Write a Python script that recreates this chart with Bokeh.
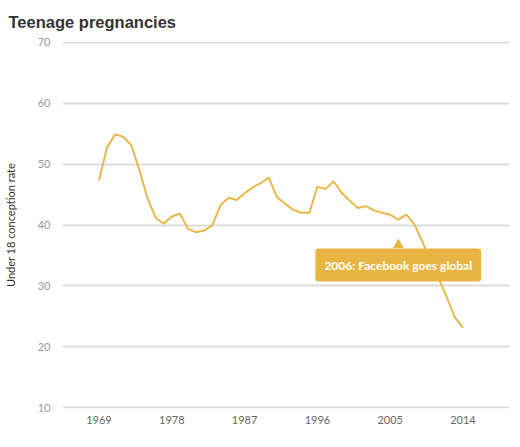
from bokeh.plotting import figure
from bokeh.models import Range1d, FixedTicker, Label, Title
from bokeh.embed import file_html
from bokeh.resources import INLINE

years = list(range(1969, 2015))
rate = [47.3, 52.8, 54.9, 54.5, 53.1, 49.0, 44.4, 41.2, 40.2, 41.4,
        41.9, 39.4, 38.8, 39.1, 39.9, 43.2, 44.5, 44.1, 45.2, 46.2,
        46.9, 47.8, 44.6, 43.5, 42.5, 42.0, 42.0, 46.3, 45.9, 47.2,
        45.3, 44.0, 42.8, 43.1, 42.4, 42.0, 41.7, 40.9, 41.7, 40.1,
        37.2, 34.2, 31.2, 28.1, 24.8, 23.1]
x_ticks = [1969, 1978, 1987, 1996, 2005, 2014]
y_ticks = [10, 20, 30, 40, 50, 60, 70]
note_year = 2006
note_text = "2006: Facebook goes global"
title_text = "Teenage pregnancies"
y_label = "Under 18 conception rate"

LINE = "#e9b84a"
BOX = "#e8b542"

p = figure(frame_width=447, frame_height=367, output_backend="svg", toolbar_location=None,
           x_range=Range1d(1964.49, 2019.75), y_range=Range1d(9.836, 70.164),
           min_border_left=54, min_border_right=3, min_border_top=33,
           min_border_bottom=24)
p.outline_line_color = None
p.background_fill_color = "white"
p.border_fill_color = "white"

t = Title(text=title_text, text_font="Liberation Sans", text_font_size="16.5px",
          text_font_style="bold", text_color="#333333", align="left", offset=-54,
          standoff=21)
p.add_layout(t, "above")

p.line(years, rate, line_color=LINE, line_width=2)

# annotation callout
p.scatter([note_year], [36.75], marker="triangle", size=11, fill_color=BOX,
          line_color=None)
lab = Label(x=note_year, y=33.42, text=note_text, text_align="center",
            text_baseline="middle", text_color="white", text_font="Lato",
            text_font_size="12px", text_font_style="bold",
            background_fill_color=BOX, padding=(9, 9), border_radius=3)
p.add_layout(lab)

p.xaxis.ticker = FixedTicker(ticks=x_ticks)
p.yaxis.ticker = FixedTicker(ticks=y_ticks)
for ax in (p.xaxis, p.yaxis):
    ax.axis_line_color = None
    ax.major_tick_line_color = None
    ax.minor_tick_line_color = None
    ax.major_label_text_font = "Lato"
    ax.major_label_text_font_size = "11px"
p.xaxis.major_label_text_color = "#666666"
p.yaxis.major_label_text_color = "#999999"
p.xaxis.major_label_standoff = 1
p.yaxis.major_label_standoff = 6
p.yaxis.axis_label = y_label
p.yaxis.axis_label_text_font = "Lato"
p.yaxis.axis_label_text_font_size = "11px"
p.yaxis.axis_label_text_font_style = "normal"
p.yaxis.axis_label_text_color = "#333333"
p.yaxis.axis_label_standoff = 18

p.xgrid.grid_line_color = None
p.ygrid.grid_line_color = "#dcdcdc"
p.ygrid.grid_line_width = 2

open("out.html", "w").write(file_html(p, INLINE))
